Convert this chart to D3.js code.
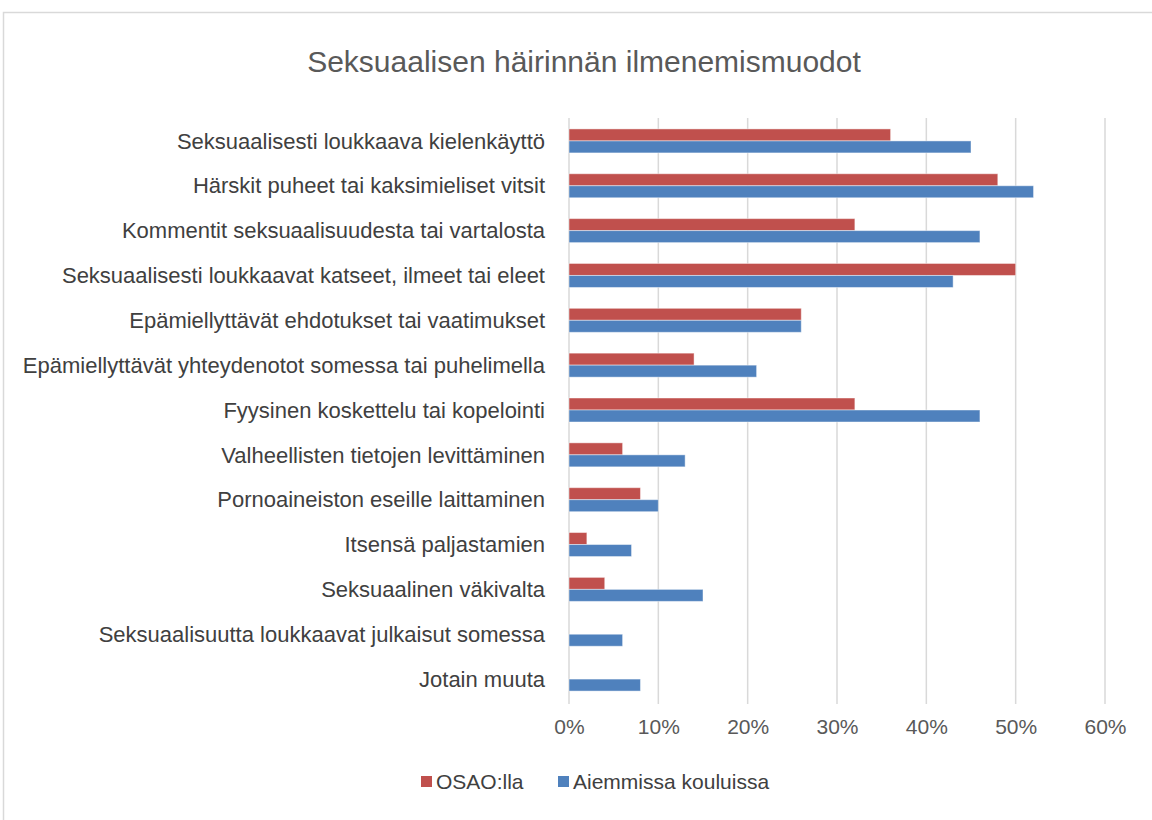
<!DOCTYPE html>
<html>
<head>
<meta charset="utf-8">
<script src="https://cdn.jsdelivr.net/npm/d3@7"></script>
<style>
  body { margin: 0; background: #fff; }
  text { font-family: "Liberation Sans Narrow", "Arial Narrow", "Liberation Sans", sans-serif; }
</style>
</head>
<body>
<svg id="chart" width="1152" height="820"></svg>
<script>
// data
var categories = [
  "Seksuaalisesti loukkaava kielenkäyttö",
  "Härskit puheet tai kaksimieliset vitsit",
  "Kommentit seksuaalisuudesta tai vartalosta",
  "Seksuaalisesti loukkaavat katseet, ilmeet tai eleet",
  "Epämiellyttävät ehdotukset tai vaatimukset",
  "Epämiellyttävät yhteydenotot somessa tai puhelimella",
  "Fyysinen koskettelu tai kopelointi",
  "Valheellisten tietojen levittäminen",
  "Pornoaineiston eseille laittaminen",
  "Itsensä paljastamien",
  "Seksuaalinen väkivalta",
  "Seksuaalisuutta loukkaavat julkaisut somessa",
  "Jotain muuta"
];
var osaoValues = [36, 48, 32, 50, 26, 14, 32, 6, 8, 2, 4, 0, 0];
var aiemmatValues = [45, 52, 46, 43, 26, 21, 46, 13, 10, 7, 15, 6, 8];
var seriesNames = ["OSAO:lla", "Aiemmissa kouluissa"];
var seriesColors = ["#C0504D", "#4F81BD"];
var xTicks = [0, 10, 20, 30, 40, 50, 60];

var svg = d3.select("#chart");

// outer chart border
svg.append("rect")
  .attr("x", 3.5).attr("y", 12.5)
  .attr("width", 1160).attr("height", 820)
  .attr("fill", "none").attr("stroke", "#d9d9d9").attr("stroke-width", 1.5);

svg.append("text")
  .attr("x", 584).attr("y", 72)
  .attr("text-anchor", "middle")
  .attr("font-size", 30)
  .attr("fill", "#595959")
  .text("Seksuaalisen häirinnän ilmenemismuodot");

var x = d3.scaleLinear().domain([0, 60]).range([569, 1105]);
var y = d3.scaleBand().domain(categories).range([118.5, 701.5]);
var inner = d3.scaleBand().domain([0, 1]).range([0, 24]);

// gridlines
svg.append("g").selectAll("line")
  .data(xTicks)
  .enter()
  .append("line")
  .attr("x1", function(d) { return x(d); })
  .attr("x2", function(d) { return x(d); })
  .attr("y1", 118)
  .attr("y2", 704)
  .attr("stroke", "#d9d9d9")
  .attr("stroke-width", 1.5);

// bars
var rows = svg.append("g").selectAll("g")
  .data(categories)
  .enter()
  .append("g")
  .attr("transform", function(d) {
    return "translate(0," + (y(d) + y.bandwidth() / 2 - 12) + ")";
  });

[osaoValues, aiemmatValues].forEach(function(vals, s) {
  rows.append("rect")
    .attr("x", x(0))
    .attr("y", inner(s))
    .attr("width", function(d, i) { return x(vals[i]) - x(0); })
    .attr("height", inner.bandwidth())
    .attr("fill", seriesColors[s])
    .attr("stroke", function(d, i) { return vals[i] > 0 ? "rgba(255,255,255,0.45)" : "none"; })
    .attr("stroke-width", 1);
});

// category labels
svg.append("g").selectAll("text")
  .data(categories)
  .enter()
  .append("text")
  .attr("x", 545)
  .attr("y", function(d) { return y(d) + y.bandwidth() / 2; })
  .attr("dy", "0.35em")
  .attr("text-anchor", "end")
  .attr("font-size", 22)
  .attr("fill", "#404040")
  .text(function(d) { return d; });

// x axis labels
var xAxis = d3.axisBottom(x)
  .tickValues(xTicks)
  .tickSize(0)
  .tickPadding(0)
  .tickFormat(function(d) { return d + "%"; });
var ax = svg.append("g").attr("transform", "translate(0,719)").call(xAxis);
ax.select(".domain").remove();
ax.selectAll("text")
  .attr("font-size", 21)
  .attr("fill", "#595959")
  .attr("font-family", null);

// legend
var legendX = [421, 558];
var legend = svg.append("g").selectAll("g")
  .data(seriesNames)
  .enter()
  .append("g")
  .attr("transform", function(d, i) { return "translate(" + legendX[i] + ",782)"; });
legend.append("rect")
  .attr("x", 0).attr("y", -6)
  .attr("width", 11).attr("height", 11)
  .attr("fill", function(d, i) { return seriesColors[i]; });
legend.append("text")
  .attr("x", 15).attr("y", 0)
  .attr("dy", "0.35em")
  .attr("font-size", 21)
  .attr("fill", "#404040")
  .text(function(d) { return d; });
</script>
</body>
</html>
